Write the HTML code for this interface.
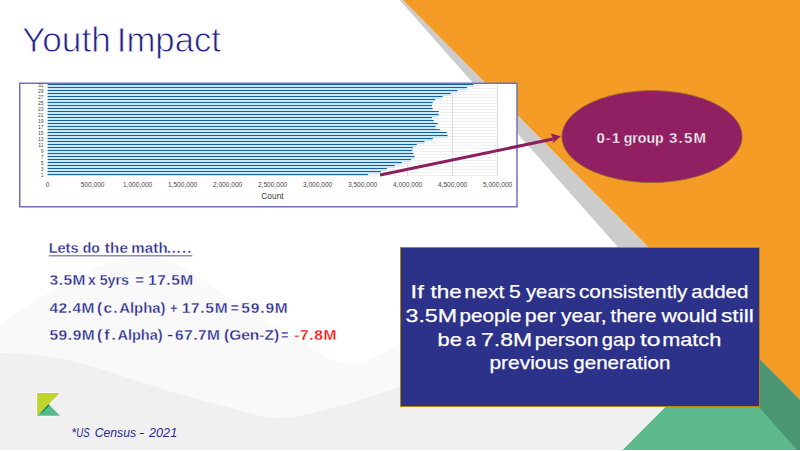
<!DOCTYPE html><html><head><meta charset="utf-8"><style>html,body{margin:0;padding:0;background:#fff;overflow:hidden}svg{display:block}text{font-family:"Liberation Sans",sans-serif}</style></head><body>
<svg width="800" height="451" viewBox="0 0 800 451">
<rect width="800" height="451" fill="#ffffff"/>
<path d="M0,324 C40,298 95,260 140,256 C172,254 195,276 230,299 L318,352 C332,361 342,365 356,363 C372,360 388,349 420,335 L760,255 L800,255 L800,451 L0,451 Z" fill="#f9f9f9"/>
<path d="M0,353 C40,353 75,360 110,372 C150,386 200,400 235,409 C255,415 268,419 282,418 C310,416 345,405 400,387 L760,300 L800,300 L800,451 L0,451 Z" fill="#f0f0f0"/>
<polygon points="399.7,0 403,0 850.8,451 797.9,451" fill="#cccccc"/>
<polygon points="403,0 800,0 800,399.8" fill="#f59c27"/>
<polygon points="661.5999999999999,300 700.9,300 850.8,451 794.9,451" fill="#4a9674"/>
<polygon points="715,357.2 622.7,450 797,450" fill="#5bb98b"/>
<rect x="0" y="450" width="800" height="1" fill="#ffffff"/>
<rect x="19.75" y="83.25" width="497.25" height="123.5" fill="#ffffff" stroke="#7070b8" stroke-width="1.5"/>
<rect x="47.6" y="85" width="450.0" height="1" fill="#f0f0f0"/>
<rect x="47.6" y="88" width="450.0" height="1" fill="#f0f0f0"/>
<rect x="47.6" y="91" width="450.0" height="1" fill="#f0f0f0"/>
<rect x="47.6" y="94" width="450.0" height="1" fill="#f0f0f0"/>
<rect x="47.6" y="97" width="450.0" height="1" fill="#f0f0f0"/>
<rect x="47.6" y="100" width="450.0" height="1" fill="#f0f0f0"/>
<rect x="47.6" y="103" width="450.0" height="1" fill="#f0f0f0"/>
<rect x="47.6" y="106" width="450.0" height="1" fill="#f0f0f0"/>
<rect x="47.6" y="109" width="450.0" height="1" fill="#f0f0f0"/>
<rect x="47.6" y="112" width="450.0" height="1" fill="#f0f0f0"/>
<rect x="47.6" y="115" width="450.0" height="1" fill="#f0f0f0"/>
<rect x="47.6" y="118" width="450.0" height="1" fill="#f0f0f0"/>
<rect x="47.6" y="121" width="450.0" height="1" fill="#f0f0f0"/>
<rect x="47.6" y="124" width="450.0" height="1" fill="#f0f0f0"/>
<rect x="47.6" y="127" width="450.0" height="1" fill="#f0f0f0"/>
<rect x="47.6" y="130" width="450.0" height="1" fill="#f0f0f0"/>
<rect x="47.6" y="133" width="450.0" height="1" fill="#f0f0f0"/>
<rect x="47.6" y="136" width="450.0" height="1" fill="#f0f0f0"/>
<rect x="47.6" y="139" width="450.0" height="1" fill="#f0f0f0"/>
<rect x="47.6" y="142" width="450.0" height="1" fill="#f0f0f0"/>
<rect x="47.6" y="145" width="450.0" height="1" fill="#f0f0f0"/>
<rect x="47.6" y="148" width="450.0" height="1" fill="#f0f0f0"/>
<rect x="47.6" y="151" width="450.0" height="1" fill="#f0f0f0"/>
<rect x="47.6" y="154" width="450.0" height="1" fill="#f0f0f0"/>
<rect x="47.6" y="157" width="450.0" height="1" fill="#f0f0f0"/>
<rect x="47.6" y="160" width="450.0" height="1" fill="#f0f0f0"/>
<rect x="47.6" y="163" width="450.0" height="1" fill="#f0f0f0"/>
<rect x="47.6" y="166" width="450.0" height="1" fill="#f0f0f0"/>
<rect x="47.6" y="169" width="450.0" height="1" fill="#f0f0f0"/>
<rect x="47.6" y="172" width="450.0" height="1" fill="#f0f0f0"/>
<rect x="47.6" y="175" width="450.0" height="1" fill="#f0f0f0"/>
<rect x="92.10" y="84" width="1" height="92" fill="#dddddd"/>
<rect x="137.10" y="84" width="1" height="92" fill="#dddddd"/>
<rect x="182.10" y="84" width="1" height="92" fill="#dddddd"/>
<rect x="227.10" y="84" width="1" height="92" fill="#dddddd"/>
<rect x="272.10" y="84" width="1" height="92" fill="#dddddd"/>
<rect x="317.10" y="84" width="1" height="92" fill="#dddddd"/>
<rect x="362.10" y="84" width="1" height="92" fill="#dddddd"/>
<rect x="407.10" y="84" width="1" height="92" fill="#dddddd"/>
<rect x="452.10" y="84" width="1" height="92" fill="#dddddd"/>
<rect x="497.10" y="84" width="1" height="92" fill="#dddddd"/>
<rect x="47.6" y="84" width="425.9" height="1" fill="#17609f"/>
<rect x="47.6" y="85" width="425.9" height="2" fill="#c9e8f6"/>
<rect x="47.6" y="87" width="419.4" height="1" fill="#17609f"/>
<rect x="47.6" y="88" width="419.4" height="2" fill="#c9e8f6"/>
<rect x="47.6" y="90" width="409.9" height="1" fill="#17609f"/>
<rect x="47.6" y="91" width="409.9" height="2" fill="#c9e8f6"/>
<rect x="47.6" y="93" width="403.2" height="1" fill="#17609f"/>
<rect x="47.6" y="94" width="403.2" height="2" fill="#c9e8f6"/>
<rect x="47.6" y="96" width="394.9" height="1" fill="#17609f"/>
<rect x="47.6" y="97" width="394.9" height="2" fill="#c9e8f6"/>
<rect x="47.6" y="99" width="387.6" height="1" fill="#17609f"/>
<rect x="47.6" y="100" width="387.6" height="2" fill="#c9e8f6"/>
<rect x="47.6" y="102" width="385.1" height="1" fill="#17609f"/>
<rect x="47.6" y="103" width="385.1" height="2" fill="#c9e8f6"/>
<rect x="47.6" y="105" width="384.4" height="1" fill="#17609f"/>
<rect x="47.6" y="106" width="384.4" height="2" fill="#c9e8f6"/>
<rect x="47.6" y="108" width="385.1" height="1" fill="#17609f"/>
<rect x="47.6" y="109" width="385.1" height="2" fill="#c9e8f6"/>
<rect x="47.6" y="111" width="391.1" height="1" fill="#17609f"/>
<rect x="47.6" y="112" width="391.1" height="2" fill="#c9e8f6"/>
<rect x="47.6" y="114" width="391.1" height="1" fill="#17609f"/>
<rect x="47.6" y="115" width="391.1" height="2" fill="#c9e8f6"/>
<rect x="47.6" y="117" width="384.4" height="1" fill="#17609f"/>
<rect x="47.6" y="118" width="384.4" height="2" fill="#c9e8f6"/>
<rect x="47.6" y="120" width="386.2" height="1" fill="#17609f"/>
<rect x="47.6" y="121" width="386.2" height="2" fill="#c9e8f6"/>
<rect x="47.6" y="123" width="390.1" height="1" fill="#17609f"/>
<rect x="47.6" y="124" width="390.1" height="2" fill="#c9e8f6"/>
<rect x="47.6" y="126" width="387.9" height="1" fill="#17609f"/>
<rect x="47.6" y="127" width="387.9" height="2" fill="#c9e8f6"/>
<rect x="47.6" y="129" width="392.2" height="1" fill="#17609f"/>
<rect x="47.6" y="130" width="392.2" height="2" fill="#c9e8f6"/>
<rect x="47.6" y="132" width="399.2" height="1" fill="#17609f"/>
<rect x="47.6" y="133" width="399.2" height="2" fill="#c9e8f6"/>
<rect x="47.6" y="135" width="399.9" height="1" fill="#17609f"/>
<rect x="47.6" y="136" width="399.9" height="2" fill="#c9e8f6"/>
<rect x="47.6" y="138" width="385.2" height="1" fill="#17609f"/>
<rect x="47.6" y="139" width="385.2" height="2" fill="#c9e8f6"/>
<rect x="47.6" y="141" width="376.9" height="1" fill="#17609f"/>
<rect x="47.6" y="142" width="376.9" height="2" fill="#c9e8f6"/>
<rect x="47.6" y="144" width="369.2" height="1" fill="#17609f"/>
<rect x="47.6" y="145" width="369.2" height="2" fill="#c9e8f6"/>
<rect x="47.6" y="147" width="365.2" height="1" fill="#17609f"/>
<rect x="47.6" y="148" width="365.2" height="2" fill="#c9e8f6"/>
<rect x="47.6" y="150" width="364.7" height="1" fill="#17609f"/>
<rect x="47.6" y="151" width="364.7" height="2" fill="#c9e8f6"/>
<rect x="47.6" y="153" width="365.9" height="1" fill="#17609f"/>
<rect x="47.6" y="154" width="365.9" height="2" fill="#c9e8f6"/>
<rect x="47.6" y="156" width="366.9" height="1" fill="#17609f"/>
<rect x="47.6" y="157" width="366.9" height="2" fill="#c9e8f6"/>
<rect x="47.6" y="159" width="363.4" height="1" fill="#17609f"/>
<rect x="47.6" y="160" width="363.4" height="2" fill="#c9e8f6"/>
<rect x="47.6" y="162" width="354.2" height="1" fill="#17609f"/>
<rect x="47.6" y="163" width="354.2" height="2" fill="#c9e8f6"/>
<rect x="47.6" y="165" width="347.2" height="1" fill="#17609f"/>
<rect x="47.6" y="166" width="347.2" height="2" fill="#c9e8f6"/>
<rect x="47.6" y="168" width="339.2" height="1" fill="#17609f"/>
<rect x="47.6" y="169" width="339.2" height="2" fill="#c9e8f6"/>
<rect x="47.6" y="171" width="333.2" height="1" fill="#17609f"/>
<rect x="47.6" y="172" width="333.2" height="2" fill="#c9e8f6"/>
<rect x="47.6" y="174" width="320.6" height="1" fill="#17609f"/>
<rect x="47.6" y="175" width="320.6" height="1" fill="#c9e8f6"/>
<text x="43.5" y="177.3" font-size="5" fill="#474747" text-anchor="end">1</text>
<text x="43.5" y="171.3" font-size="5" fill="#474747" text-anchor="end">3</text>
<text x="43.5" y="165.3" font-size="5" fill="#474747" text-anchor="end">5</text>
<text x="43.5" y="159.3" font-size="5" fill="#474747" text-anchor="end">7</text>
<text x="43.5" y="153.3" font-size="5" fill="#474747" text-anchor="end">9</text>
<text x="43.5" y="147.3" font-size="5" fill="#474747" text-anchor="end">11</text>
<text x="43.5" y="141.3" font-size="5" fill="#474747" text-anchor="end">13</text>
<text x="43.5" y="135.3" font-size="5" fill="#474747" text-anchor="end">15</text>
<text x="43.5" y="129.3" font-size="5" fill="#474747" text-anchor="end">17</text>
<text x="43.5" y="123.3" font-size="5" fill="#474747" text-anchor="end">19</text>
<text x="43.5" y="117.3" font-size="5" fill="#474747" text-anchor="end">21</text>
<text x="43.5" y="111.3" font-size="5" fill="#474747" text-anchor="end">23</text>
<text x="43.5" y="105.3" font-size="5" fill="#474747" text-anchor="end">25</text>
<text x="43.5" y="99.3" font-size="5" fill="#474747" text-anchor="end">27</text>
<text x="43.5" y="93.3" font-size="5" fill="#474747" text-anchor="end">29</text>
<text x="43.5" y="87.3" font-size="5" fill="#474747" text-anchor="end">31</text>
<text x="47.6" y="186.9" font-size="6.6" fill="#474747" text-anchor="middle">0</text>
<text x="92.6" y="186.9" font-size="6.6" fill="#474747" text-anchor="middle">500,000</text>
<text x="137.6" y="186.9" font-size="6.6" fill="#474747" text-anchor="middle">1,000,000</text>
<text x="182.6" y="186.9" font-size="6.6" fill="#474747" text-anchor="middle">1,500,000</text>
<text x="227.6" y="186.9" font-size="6.6" fill="#474747" text-anchor="middle">2,000,000</text>
<text x="272.6" y="186.9" font-size="6.6" fill="#474747" text-anchor="middle">2,500,000</text>
<text x="317.6" y="186.9" font-size="6.6" fill="#474747" text-anchor="middle">3,000,000</text>
<text x="362.6" y="186.9" font-size="6.6" fill="#474747" text-anchor="middle">3,500,000</text>
<text x="407.6" y="186.9" font-size="6.6" fill="#474747" text-anchor="middle">4,000,000</text>
<text x="452.6" y="186.9" font-size="6.6" fill="#474747" text-anchor="middle">4,500,000</text>
<text x="497.6" y="186.9" font-size="6.6" fill="#474747" text-anchor="middle">5,000,000</text>
<text x="272.5" y="198.8" font-size="8.4" fill="#404040" text-anchor="middle">Count</text>
<line x1="380" y1="175" x2="553" y2="139" stroke="#8c1d5e" stroke-width="3"/>
<polygon points="560.6,136.2 550.6,133.4 553.6,139.4 552.6,143.4" fill="#8c1d5e"/>
<ellipse cx="652" cy="136.6" rx="90.2" ry="46" fill="#902061" stroke="#9a6a2a" stroke-width="0.8"/>
<g stroke="#902061" stroke-width="0.35">
<text x="596.60" y="143" font-size="15" font-weight="bold" fill="#ffffff" textLength="23.43" lengthAdjust="spacing">0-1</text>
<text x="623.68" y="143" font-size="15" font-weight="bold" fill="#ffffff" textLength="40.06" lengthAdjust="spacingAndGlyphs">group</text>
<text x="668.94" y="143" font-size="15" font-weight="bold" fill="#ffffff" textLength="37.05" lengthAdjust="spacing">3.5M</text>
</g>
<g stroke="#ffffff" stroke-width="0.8">
<text x="22.04" y="52.3" font-size="35.3" fill="#20208a" textLength="88.81" lengthAdjust="spacingAndGlyphs">Youth</text>
<text x="116.80" y="52.3" font-size="35.3" fill="#20208a" textLength="104.12" lengthAdjust="spacingAndGlyphs">Impact</text>
</g>
<g stroke="#fafafa" stroke-width="0.35">
<text x="48.66" y="252.7" font-size="15" font-weight="bold" fill="#25278c" textLength="29.82" lengthAdjust="spacingAndGlyphs">Lets</text>
<text x="82.79" y="252.7" font-size="15" font-weight="bold" fill="#25278c" textLength="17.06" lengthAdjust="spacingAndGlyphs">do</text>
<text x="104.68" y="252.7" font-size="15" font-weight="bold" fill="#25278c" textLength="23.28" lengthAdjust="spacing">the</text>
<text x="131.20" y="252.7" font-size="15" font-weight="bold" fill="#25278c" textLength="36.59" lengthAdjust="spacing">math</text>
<text x="166.15" y="252.7" font-size="15" font-weight="bold" fill="#25278c" textLength="25.18" lengthAdjust="spacing">…..</text>
<rect x="48.75" y="255.2" width="143.5" height="1.2" fill="#25278c"/>
<text x="49.62" y="284.8" font-size="15.5" font-weight="bold" fill="#25278c" textLength="35.76" lengthAdjust="spacing">3.5M</text>
<text x="88.11" y="284.8" font-size="15.5" font-weight="bold" fill="#25278c" textLength="7.72" lengthAdjust="spacingAndGlyphs">x</text>
<text x="99.67" y="284.8" font-size="15.5" font-weight="bold" fill="#25278c" textLength="29.39" lengthAdjust="spacingAndGlyphs">5yrs</text>
<text x="135.29" y="284.8" font-size="15.5" font-weight="bold" fill="#25278c" textLength="8.71" lengthAdjust="spacingAndGlyphs">=</text>
<text x="147.96" y="284.8" font-size="15.5" font-weight="bold" fill="#25278c" textLength="45.27" lengthAdjust="spacing">17.5M</text>
<text x="49.44" y="312.8" font-size="15.5" font-weight="bold" fill="#25278c" textLength="44.96" lengthAdjust="spacing">42.4M</text>
<text x="97.03" y="312.8" font-size="15.5" font-weight="bold" fill="#25278c" textLength="20.48" lengthAdjust="spacing">(c.</text>
<text x="119.22" y="312.8" font-size="15.5" font-weight="bold" fill="#25278c" textLength="46.27" lengthAdjust="spacingAndGlyphs">Alpha)</text>
<text x="170.03" y="312.8" font-size="15.5" font-weight="bold" fill="#25278c" textLength="7.55" lengthAdjust="spacingAndGlyphs">+</text>
<text x="181.70" y="312.8" font-size="15.5" font-weight="bold" fill="#25278c" textLength="45.90" lengthAdjust="spacing">17.5M</text>
<text x="230.82" y="312.8" font-size="15.5" font-weight="bold" fill="#25278c" textLength="7.94" lengthAdjust="spacingAndGlyphs">=</text>
<text x="241.37" y="312.8" font-size="15.5" font-weight="bold" fill="#25278c" textLength="46.42" lengthAdjust="spacing">59.9M</text>
<text x="49.42" y="340.4" font-size="15.5" font-weight="bold" fill="#25278c" textLength="45.36" lengthAdjust="spacing">59.9M</text>
<text x="97.03" y="340.4" font-size="15.5" font-weight="bold" fill="#25278c" textLength="18.79" lengthAdjust="spacing">(f.</text>
<text x="117.49" y="340.4" font-size="15.5" font-weight="bold" fill="#25278c" textLength="45.10" lengthAdjust="spacingAndGlyphs">Alpha)</text>
<text x="167.58" y="340.4" font-size="15.5" font-weight="bold" fill="#25278c" textLength="5.16" lengthAdjust="spacingAndGlyphs">–</text>
<text x="175.00" y="340.4" font-size="15.5" font-weight="bold" fill="#25278c" textLength="44.99" lengthAdjust="spacing">67.7M</text>
<text x="224.03" y="340.4" font-size="15.5" font-weight="bold" fill="#25278c" textLength="55.11" lengthAdjust="spacing">(Gen-Z)</text>
<text x="281.30" y="340.4" font-size="15.5" font-weight="bold" fill="#25278c" textLength="7.04" lengthAdjust="spacingAndGlyphs">=</text>
<text x="294.22" y="340.4" font-size="15.5" font-weight="bold" fill="#ff0000" textLength="42.11" lengthAdjust="spacing">-7.8M</text>
</g>
<rect x="400.5" y="247.5" width="359" height="159" fill="#2c3189" stroke="#b8860b" stroke-width="1"/>
<g stroke="#ffffff" stroke-width="0.25">
<text x="410.56" y="297.8" font-size="18.6" fill="#ffffff" textLength="13.18" lengthAdjust="spacingAndGlyphs">If</text>
<text x="430.57" y="297.8" font-size="18.6" fill="#ffffff" textLength="31.21" lengthAdjust="spacingAndGlyphs">the</text>
<text x="464.28" y="297.8" font-size="18.6" fill="#ffffff" textLength="40.18" lengthAdjust="spacingAndGlyphs">next</text>
<text x="508.91" y="297.8" font-size="18.6" fill="#ffffff" textLength="11.71" lengthAdjust="spacingAndGlyphs">5</text>
<text x="525.99" y="297.8" font-size="18.6" fill="#ffffff" textLength="49.58" lengthAdjust="spacingAndGlyphs">years</text>
<text x="578.99" y="297.8" font-size="18.6" fill="#ffffff" textLength="108.43" lengthAdjust="spacingAndGlyphs">consistently</text>
<text x="691.32" y="297.8" font-size="18.6" fill="#ffffff" textLength="57.14" lengthAdjust="spacingAndGlyphs">added</text>
<text x="405.50" y="321.6" font-size="18.6" fill="#ffffff" textLength="51.51" lengthAdjust="spacingAndGlyphs">3.5M</text>
<text x="459.41" y="321.6" font-size="18.6" fill="#ffffff" textLength="62.08" lengthAdjust="spacingAndGlyphs">people</text>
<text x="524.87" y="321.6" font-size="18.6" fill="#ffffff" textLength="30.97" lengthAdjust="spacingAndGlyphs">per</text>
<text x="560.98" y="321.6" font-size="18.6" fill="#ffffff" textLength="45.63" lengthAdjust="spacingAndGlyphs">year,</text>
<text x="610.54" y="321.6" font-size="18.6" fill="#ffffff" textLength="45.94" lengthAdjust="spacingAndGlyphs">there</text>
<text x="661.45" y="321.6" font-size="18.6" fill="#ffffff" textLength="55.73" lengthAdjust="spacingAndGlyphs">would</text>
<text x="720.98" y="321.6" font-size="18.6" fill="#ffffff" textLength="32.80" lengthAdjust="spacingAndGlyphs">still</text>
<text x="437.54" y="345.6" font-size="18.6" fill="#ffffff" textLength="24.32" lengthAdjust="spacingAndGlyphs">be</text>
<text x="465.74" y="345.6" font-size="18.6" fill="#ffffff" textLength="10.12" lengthAdjust="spacingAndGlyphs">a</text>
<text x="481.07" y="345.6" font-size="18.6" fill="#ffffff" textLength="51.15" lengthAdjust="spacingAndGlyphs">7.8M</text>
<text x="534.65" y="345.6" font-size="18.6" fill="#ffffff" textLength="63.81" lengthAdjust="spacingAndGlyphs">person</text>
<text x="601.85" y="345.6" font-size="18.6" fill="#ffffff" textLength="33.46" lengthAdjust="spacingAndGlyphs">gap</text>
<text x="639.98" y="345.6" font-size="18.6" fill="#ffffff" textLength="20.61" lengthAdjust="spacingAndGlyphs">to</text>
<text x="662.19" y="345.6" font-size="18.6" fill="#ffffff" textLength="59.03" lengthAdjust="spacingAndGlyphs">match</text>
<text x="489.47" y="369.3" font-size="18.6" fill="#ffffff" textLength="79.10" lengthAdjust="spacingAndGlyphs">previous</text>
<text x="573.34" y="369.3" font-size="18.6" fill="#ffffff" textLength="97.05" lengthAdjust="spacingAndGlyphs">generation</text>
</g>
<polygon points="36,392 61,392 61,394 48.6,405 61,416.8 36,416.8" fill="#ffffff" opacity="0.6"/>
<polygon points="37.1,393 60,393 37.1,415.8" fill="#bfd630"/>
<polygon points="37.1,415.8 48.6,404.3 60,415.8" fill="#55bb8b"/>
<polygon points="48.6,404.3 49.5,405.2 41.5,413.2 40.3,413.2" fill="#137a40"/>
<text x="71.25" y="437.1" font-size="12.6" font-style="italic" fill="#25278c" textLength="4.90" lengthAdjust="spacingAndGlyphs">*</text>
<text x="76.28" y="437.1" font-size="12.6" font-style="italic" fill="#25278c" textLength="13.34" lengthAdjust="spacingAndGlyphs">US</text>
<text x="94.82" y="437.1" font-size="12.6" font-style="italic" fill="#25278c" textLength="41.14" lengthAdjust="spacingAndGlyphs">Census</text>
<text x="138.96" y="437.1" font-size="12.6" font-style="italic" fill="#25278c" textLength="5.31" lengthAdjust="spacingAndGlyphs">-</text>
<text x="148.88" y="437.1" font-size="12.6" font-style="italic" fill="#25278c" textLength="28.38" lengthAdjust="spacing">2021</text>
</svg></body></html>
